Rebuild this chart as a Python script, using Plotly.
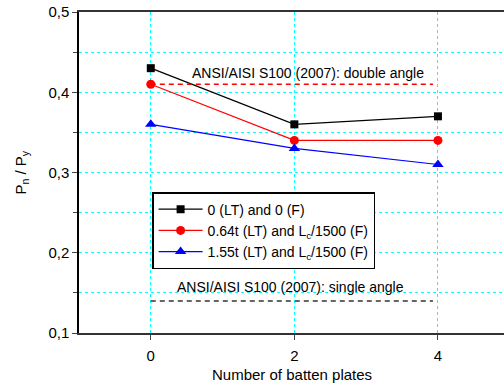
import plotly.graph_objects as go

x_vals = [0, 2, 4]
names = ["0 (LT) and 0 (F)", "0.64t (LT) and L<sub>c</sub>/1500 (F)", "1.55t (LT) and L<sub>c</sub>/1500 (F)"]
s_black = [0.43, 0.36, 0.37]
s_red = [0.41, 0.34, 0.34]
s_blue = [0.36, 0.33, 0.31]
double_angle = 0.41
single_angle = 0.14
ref_x = [0, 3.93]

FONT = "Liberation Sans, Arial, sans-serif"

fig = go.Figure()
styles = [("black", "square", 8), ("red", "circle", 9), ("blue", "triangle-up", 10)]
for nm, ys, (c, sym, sz) in zip(names, [s_black, s_red, s_blue], styles):
    fig.add_trace(go.Scatter(x=x_vals, y=ys, mode="lines+markers", name=nm,
                             line=dict(color=c, width=1.2),
                             marker=dict(symbol=sym, size=sz, color=c)))

fig.add_trace(go.Scatter(x=ref_x, y=[double_angle]*2, mode="lines", showlegend=False,
                         line=dict(color="red", width=1.5, dash="5px,4px")))
fig.add_trace(go.Scatter(x=ref_x, y=[single_angle]*2, mode="lines", showlegend=False,
                         line=dict(color="#333333", width=1.5, dash="5px,4px")))

fig.add_annotation(x=2.19, y=double_angle, yshift=11, text="ANSI/AISI S100 (2007): double angle",
                   showarrow=False, xanchor="center", yanchor="middle",
                   font=dict(size=14, color="black", family=FONT))
fig.add_annotation(x=1.94, y=single_angle, yshift=14, text="ANSI/AISI S100 (2007): single angle",
                   showarrow=False, xanchor="center", yanchor="middle",
                   font=dict(size=14, color="black", family=FONT))

# axis titles
fig.add_annotation(xref="paper", yref="paper", x=0.5, y=0, yshift=-41,
                   text="Number of batten plates", showarrow=False,
                   xanchor="center", yanchor="middle", font=dict(size=15, family=FONT))
fig.add_annotation(xref="paper", yref="paper", x=0, y=0.5, xshift=-58,
                   text="P<sub>n</sub> / P<sub>y</sub>", showarrow=False, textangle=-90,
                   xanchor="center", yanchor="middle", font=dict(size=15, family=FONT))

fig.update_layout(
    width=504, height=389,
    margin=dict(l=79, r=0, t=12, b=56),
    plot_bgcolor="white", paper_bgcolor="white",
    separators=",.",
    font=dict(family=FONT, size=14, color="black"),
    legend=dict(x=0.172, y=0.439, xanchor="left", yanchor="top",
                bordercolor="black", borderwidth=1.5, bgcolor="white",
                font=dict(size=14), itemwidth=44, tracegroupgap=0),
    xaxis=dict(range=[-1, 4.92], tickvals=[0, 2, 4], ticks="outside", ticklen=5,
               ticklabelstandoff=3,
               showline=True, linecolor="#333333", linewidth=1.5, mirror=True,
               showgrid=True, gridcolor="cyan", griddash="dot", gridwidth=1,
               zeroline=False, tickfont=dict(size=15)),
    yaxis=dict(range=[0.1, 0.5], dtick=0.1, tickformat=".1f", ticks="outside", ticklen=5,
               showline=True, linecolor="black", linewidth=1.5,
               showgrid=True, gridcolor="cyan", griddash="dot", gridwidth=1,
               zeroline=False, tickfont=dict(size=15),
               minor=dict(dtick=0.05, ticks="outside", ticklen=4, showgrid=True,
                          gridcolor="cyan", griddash="dot")),
)

fig.write_html("out.html")
